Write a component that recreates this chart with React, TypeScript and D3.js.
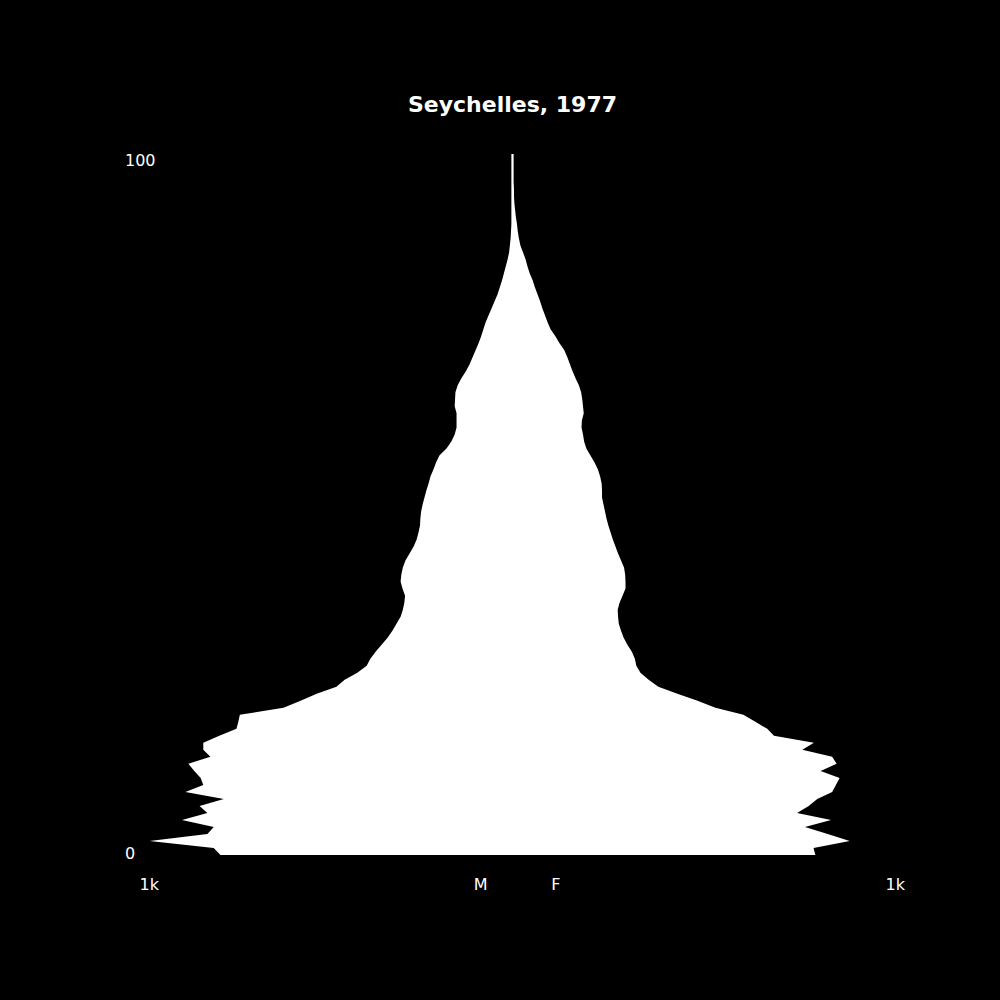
import * as d3 from 'd3';

// single-year ages 0..100
const ages = d3.range(0, 101);

const male = [
  783, 801, 973, 818, 801, 886, 818, 839, 774, 877,
  829, 836, 853, 869, 810, 829, 829, 786, 740, 735,
  731, 614, 568, 525, 472, 450, 416, 391, 381, 367,
  351, 335, 322, 311, 300, 294, 290, 288, 295, 300,
  298, 294, 287, 276, 265, 257, 252, 248, 247, 245,
  241, 236, 231, 225, 220, 212, 205, 196, 177, 164,
  155, 150, 150, 150, 155, 154, 153, 147, 137, 125,
  115, 107, 99, 91, 84, 78, 72, 64, 56, 48,
  40, 34, 28, 23, 18, 13, 9, 7, 5, 4,
  3, 3, 3, 3, 3, 3, 3, 3, 3, 3, 3,
];

const female = [
  812, 807, 904, 845, 784, 854, 763, 794, 817, 857,
  867, 877, 826, 869, 857, 777, 808, 701, 683, 651,
  619, 544, 496, 442, 391, 365, 343, 332, 328, 320,
  308, 298, 291, 285, 283, 282, 287, 295, 303, 303,
  302, 299, 291, 283, 276, 269, 263, 257, 252, 248,
  244, 240, 240, 239, 235, 229, 220, 209, 198, 192,
  189, 185, 186, 191, 189, 187, 184, 178, 169, 161,
  154, 147, 139, 126, 115, 102, 94, 87, 80, 74,
  67, 60, 54, 46, 40, 35, 28, 21, 17, 14,
  12, 9, 7, 5, 4, 4, 3, 3, 3, 3, 3,
];

const title = 'Seychelles, 1977';
const ageTicks = [0, 100];
const popTicks = [-1000, 1000];
const sexLabels = [
  { label: 'M', at: -104 },
  { label: 'F', at: 104 },
];

const W = 1000;
const H = 1000;

export default function App() {
  const x = d3.scaleLinear().domain([-1000, 1000]).range([139.5, 885.5]);
  const y = d3.scaleLinear().domain([0, 100]).range([855, 154]);
  // tick text sits a bit off the data positions
  const yLabel = d3.scaleLinear().domain([0, 100]).range([y(0) + 4, y(100) + 12]);

  const rows = ages.map((a, i) => ({ age: a, m: male[i], f: female[i] }));

  const area = d3
    .area<{ age: number; m: number; f: number }>()
    .x0((d) => x(-d.m))
    .x1((d) => x(d.f))
    .y((d) => y(d.age))
    .curve(d3.curveLinear);

  const font = '"DejaVu Sans", sans-serif';

  return (
    <>
      <style>{'body{margin:0;background:#000}'}</style>
      <svg width={W} height={H} style={{ display: 'block', background: '#000' }}>
        <rect width={W} height={H} fill="#000" />
        <text
          x={x(0)}
          y={111.5}
          textAnchor="middle"
          fill="#fff"
          fontFamily={font}
          fontWeight="bold"
          fontSize={22}
        >
          {title}
        </text>

        <path d={area(rows) ?? ''} fill="#fff" stroke="none" />

        {ageTicks.map((t) => (
          <text key={t} x={125} y={yLabel(t)} fill="#fff" fontFamily={font} fontSize={16}>
            {t}
          </text>
        ))}

        {popTicks.map((t) => (
          <text key={t} x={x(t)} y={890} fill="#fff" fontFamily={font} fontSize={16}>
            {Math.abs(t) / 1000}k
          </text>
        ))}

        {sexLabels.map((s) => (
          <text key={s.label} x={x(s.at)} y={890} fill="#fff" fontFamily={font} fontSize={16}>
            {s.label}
          </text>
        ))}
      </svg>
    </>
  );
}
